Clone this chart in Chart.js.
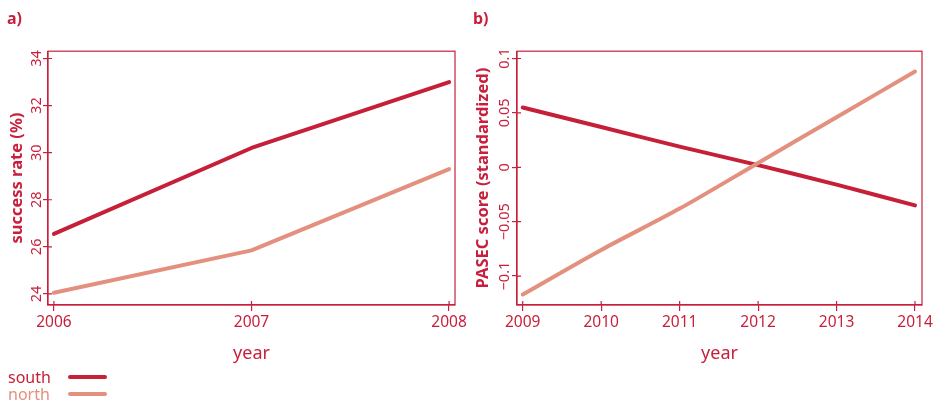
<!DOCTYPE html>
<html>
<head>
<meta charset="utf-8">
<script src="https://cdn.jsdelivr.net/npm/chart.js@4"></script>
<style>
  body { margin: 0; background: #fff; width: 938px; height: 405px; position: relative; overflow: hidden; font-family: 'Noto Sans', sans-serif; }
  #chartA { position: absolute; left: 0; top: 0; }
  #chartB { position: absolute; left: 469px; top: 0; }
  #legend { position: absolute; left: 8px; top: 369px; font-size: 16px; line-height: 17px; }
  .row { position: relative; height: 17px; }
  .swatch { position: absolute; left: 60px; top: 6px; width: 39px; height: 4px; border-radius: 2px; }
</style>
</head>
<body>
<canvas id="chartA" width="469" height="405"></canvas>
<canvas id="chartB" width="469" height="405"></canvas>
<div id="legend"></div>
<script>
// panel a) success rate
const yearsA = [2006, 2007, 2008];
const southA = [26.55, 30.2, 33.0];
const northA = [24.05, 25.85, 29.3];
const yTicksA = [24, 26, 28, 30, 32, 34];

// panel b) PASEC score
const yearsB = [2009, 2010, 2011, 2012, 2013, 2014];
const southB = [0.055, 0.037, 0.019, 0.002, -0.016, -0.035];
const northB = [-0.117, -0.076, -0.038, 0.004, 0.046, 0.088];
const yTicksB = [-0.1, -0.05, 0, 0.05, 0.1];

const seriesNames = ['south', 'north'];
const seriesColors = ['#c62039', '#e3907f'];
const axisColor = '#c8203c';
const fontFamily = "'Noto Sans', sans-serif";

// box round the plot area and the inner half of each tick mark
const framePlugin = {
  id: 'frame',
  beforeDatasetsDraw(chart) {
    const { ctx, chartArea: a, scales } = chart;
    ctx.save();
    ctx.strokeStyle = axisColor;
    ctx.lineWidth = 1.2;
    ctx.strokeRect(a.left, a.top, a.right - a.left, a.bottom - a.top);
    ctx.beginPath();
    scales.x.ticks.forEach(t => {
      const px = scales.x.getPixelForValue(t.value);
      ctx.moveTo(px, a.bottom);
      ctx.lineTo(px, a.bottom - 4);
    });
    scales.y.ticks.forEach(t => {
      const py = scales.y.getPixelForValue(t.value);
      ctx.moveTo(a.left, py);
      ctx.lineTo(a.left + 4, py);
    });
    ctx.stroke();
    ctx.restore();
  }
};

function toPoints(xs, ys) {
  return xs.map((x, i) => ({ x: x, y: ys[i] }));
}

function makeChart(id, cfg) {
  const datasets = [cfg.south, cfg.north].map((vals, i) => ({
    label: seriesNames[i],
    data: toPoints(cfg.years, vals),
    borderColor: seriesColors[i],
    backgroundColor: seriesColors[i],
    borderWidth: 4,
    borderCapStyle: 'round',
    borderJoinStyle: 'round',
    pointRadius: 0,
    tension: cfg.tension,
    order: i === 0 ? 1 : 0
  }));

  return new Chart(document.getElementById(id), {
    type: 'line',
    data: { datasets: datasets },
    plugins: [framePlugin],
    options: {
      responsive: false,
      animation: false,
      layout: { padding: { left: cfg.padLeft, right: cfg.padRight, top: 0, bottom: 0 } },
      plugins: {
        legend: { display: false },
        tooltip: { enabled: false },
        title: {
          display: true,
          text: cfg.panel,
          align: 'start',
          color: axisColor,
          font: { family: fontFamily, size: 16, weight: 'bold' },
          padding: { top: 10, bottom: 22 }
        }
      },
      scales: {
        x: {
          type: 'linear',
          min: cfg.xMin,
          max: cfg.xMax,
          afterBuildTicks: s => { s.ticks = cfg.years.map(v => ({ value: v })); },
          afterFit: s => { s.height = 100; },
          grid: { drawOnChartArea: false, color: axisColor, lineWidth: 1.2, tickLength: 6 },
          border: { color: axisColor, width: 1.2 },
          ticks: {
            autoSkip: false,
            maxRotation: 0,
            padding: 2,
            color: axisColor,
            font: { family: fontFamily, size: 15.5 },
            callback: v => String(v)
          },
          title: {
            display: true,
            text: 'year',
            color: axisColor,
            font: { family: fontFamily, size: 18 },
            padding: { top: 0, bottom: 40 }
          }
        },
        y: {
          min: cfg.yMin,
          max: cfg.yMax,
          afterBuildTicks: s => { s.ticks = cfg.yTicks.map(v => ({ value: v })); },
          afterFit: s => { s.width = cfg.yWidth; },
          grid: { drawOnChartArea: false, color: axisColor, lineWidth: 1.2, tickLength: 5 },
          border: { color: axisColor, width: 1.2 },
          ticks: {
            autoSkip: false,
            minRotation: 90,
            maxRotation: 90,
            crossAlign: 'center',
            padding: cfg.tickPad,
            color: axisColor,
            font: { family: fontFamily, size: 14.5 },
            callback: cfg.yLabel
          },
          title: {
            display: true,
            text: cfg.yTitle,
            color: axisColor,
            font: { family: fontFamily, size: 16.5, weight: 'bold' },
            padding: 0
          }
        }
      }
    }
  });
}

const chartA = makeChart('chartA', {
  panel: 'a)',
  years: yearsA, south: southA, north: northA, yTicks: yTicksA,
  xMin: 2005.97, xMax: 2008.03, yMin: 23.53, yMax: 34.31,
  padLeft: 7, padRight: 13, yWidth: 41, tickPad: -2, tension: 0,
  yTitle: 'success rate (%)',
  yLabel: v => String(v)
});

const chartB = makeChart('chartB', {
  panel: 'b)',
  years: yearsB, south: southB, north: northB, yTicks: yTicksB,
  xMin: 2008.927, xMax: 2014.089, yMin: -0.1266, yMax: 0.1067,
  padLeft: 4, padRight: 16, yWidth: 44, tickPad: -11, tension: 0.3,
  yTitle: 'PASEC score (standardized)',
  yLabel: v => (v < 0 ? '\u2212' + String(-v) : String(v))
});

// legend under panel a), built from the datasets
const legend = document.getElementById('legend');
chartA.data.datasets.forEach(ds => {
  const row = document.createElement('div');
  row.className = 'row';
  row.style.color = ds.borderColor;
  row.textContent = ds.label;
  const sw = document.createElement('span');
  sw.className = 'swatch';
  sw.style.background = ds.borderColor;
  row.appendChild(sw);
  legend.appendChild(row);
});
</script>
</body>
</html>
